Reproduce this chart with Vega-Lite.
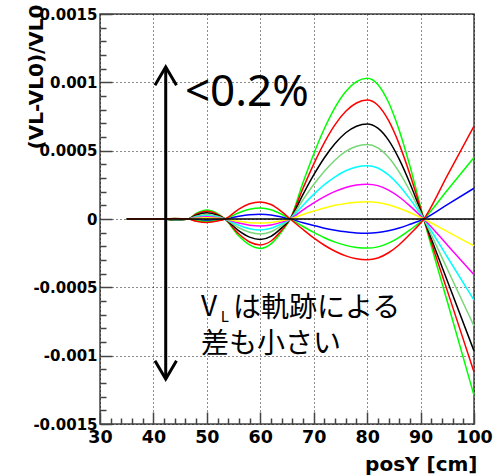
{
  "$schema": "https://vega.github.io/schema/vega-lite/v6.json",
  "width": 374,
  "height": 410,
  "autosize": {"type": "none"},
  "padding": {"left": 100, "top": 14, "right": 23, "bottom": 52},
  "background": "white",
  "config": {
    "view": {"stroke": "#444444", "strokeWidth": 1.5},
    "axis": {
      "labelFont": "DejaVu Sans",
      "labelFontWeight": "bold",
      "labelColor": "black",
      "titleFont": "DejaVu Sans",
      "titleFontWeight": "bold",
      "titleColor": "black",
      "tickColor": "#444444",
      "tickWidth": 1.5,
      "domain": false,
      "gridColor": "black",
      "gridDash": [1, 3],
      "gridWidth": 1,
      "gridOpacity": 0.9,
      "labelOverlap": false,
      "labelFlush": false
    }
  },
  "datasets": {
    "curves": [
      {"s":"g1","x":35,"v":0},{"s":"g1","x":40,"v":0},{"s":"g1","x":42,"v":0},{"s":"g1","x":44,"v":-0.00001},{"s":"g1","x":46.5,"v":0},{"s":"g1","x":48,"v":0.00004},{"s":"g1","x":50,"v":0.000065},{"s":"g1","x":52,"v":0.000039},{"s":"g1","x":53.4,"v":0},{"s":"g1","x":56,"v":-0.000125},{"s":"g1","x":58,"v":-0.00019},{"s":"g1","x":60,"v":-0.000215},{"s":"g1","x":62,"v":-0.000182},{"s":"g1","x":64,"v":-0.000093},{"s":"g1","x":65.6,"v":0},{"s":"g1","x":68,"v":0.000267},{"s":"g1","x":70,"v":0.000476},{"s":"g1","x":72,"v":0.000662},{"s":"g1","x":74,"v":0.000817},{"s":"g1","x":76,"v":0.000933},{"s":"g1","x":78,"v":0.001005},{"s":"g1","x":80,"v":0.00103},{"s":"g1","x":82,"v":0.000985},{"s":"g1","x":84,"v":0.000854},{"s":"g1","x":86,"v":0.000649},{"s":"g1","x":88,"v":0.000388},{"s":"g1","x":90.6,"v":0},{"s":"g1","x":95,"v":-0.000604},{"s":"g1","x":100,"v":-0.00129},
      {"s":"r1","x":35,"v":0},{"s":"r1","x":40,"v":0},{"s":"r1","x":42,"v":0},{"s":"r1","x":44,"v":-0.000008},{"s":"r1","x":46.5,"v":0},{"s":"r1","x":48,"v":0.000035},{"s":"r1","x":50,"v":0.000056},{"s":"r1","x":52,"v":0.000034},{"s":"r1","x":53.4,"v":0},{"s":"r1","x":56,"v":-0.00011},{"s":"r1","x":58,"v":-0.000168},{"s":"r1","x":60,"v":-0.00019},{"s":"r1","x":62,"v":-0.000161},{"s":"r1","x":64,"v":-0.000082},{"s":"r1","x":65.6,"v":0},{"s":"r1","x":68,"v":0.000225},{"s":"r1","x":70,"v":0.000402},{"s":"r1","x":72,"v":0.000559},{"s":"r1","x":74,"v":0.00069},{"s":"r1","x":76,"v":0.000788},{"s":"r1","x":78,"v":0.000849},{"s":"r1","x":80,"v":0.00087},{"s":"r1","x":82,"v":0.000832},{"s":"r1","x":84,"v":0.000721},{"s":"r1","x":86,"v":0.000548},{"s":"r1","x":88,"v":0.000328},{"s":"r1","x":90.6,"v":0},{"s":"r1","x":95,"v":-0.000524},{"s":"r1","x":100,"v":-0.00112},
      {"s":"k","x":35,"v":0},{"s":"k","x":40,"v":0},{"s":"k","x":42,"v":0},{"s":"k","x":44,"v":-0.000007},{"s":"k","x":46.5,"v":0},{"s":"k","x":48,"v":0.000028},{"s":"k","x":50,"v":0.000045},{"s":"k","x":52,"v":0.000027},{"s":"k","x":53.4,"v":0},{"s":"k","x":56,"v":-0.000087},{"s":"k","x":58,"v":-0.000133},{"s":"k","x":60,"v":-0.00015},{"s":"k","x":62,"v":-0.000127},{"s":"k","x":64,"v":-0.000065},{"s":"k","x":65.6,"v":0},{"s":"k","x":68,"v":0.00018},{"s":"k","x":70,"v":0.000322},{"s":"k","x":72,"v":0.000448},{"s":"k","x":74,"v":0.000552},{"s":"k","x":76,"v":0.000631},{"s":"k","x":78,"v":0.000679},{"s":"k","x":80,"v":0.000696},{"s":"k","x":82,"v":0.000665},{"s":"k","x":84,"v":0.000577},{"s":"k","x":86,"v":0.000438},{"s":"k","x":88,"v":0.000262},{"s":"k","x":90.6,"v":0},{"s":"k","x":95,"v":-0.000452},{"s":"k","x":100,"v":-0.000965},
      {"s":"lg","x":35,"v":0},{"s":"lg","x":40,"v":0},{"s":"lg","x":42,"v":0},{"s":"lg","x":44,"v":-0.000005},{"s":"lg","x":46.5,"v":0},{"s":"lg","x":48,"v":0.00002},{"s":"lg","x":50,"v":0.000033},{"s":"lg","x":52,"v":0.00002},{"s":"lg","x":53.4,"v":0},{"s":"lg","x":56,"v":-0.000064},{"s":"lg","x":58,"v":-0.000097},{"s":"lg","x":60,"v":-0.00011},{"s":"lg","x":62,"v":-0.000093},{"s":"lg","x":64,"v":-0.000048},{"s":"lg","x":65.6,"v":0},{"s":"lg","x":68,"v":0.000141},{"s":"lg","x":70,"v":0.000252},{"s":"lg","x":72,"v":0.00035},{"s":"lg","x":74,"v":0.000432},{"s":"lg","x":76,"v":0.000494},{"s":"lg","x":78,"v":0.000532},{"s":"lg","x":80,"v":0.000545},{"s":"lg","x":82,"v":0.000521},{"s":"lg","x":84,"v":0.000452},{"s":"lg","x":86,"v":0.000343},{"s":"lg","x":88,"v":0.000205},{"s":"lg","x":90.6,"v":0},{"s":"lg","x":95,"v":-0.000366},{"s":"lg","x":100,"v":-0.000783},
      {"s":"c","x":35,"v":0},{"s":"c","x":40,"v":0},{"s":"c","x":42,"v":0},{"s":"c","x":44,"v":-0.000004},{"s":"c","x":46.5,"v":0},{"s":"c","x":48,"v":0.000015},{"s":"c","x":50,"v":0.000024},{"s":"c","x":52,"v":0.000014},{"s":"c","x":53.4,"v":0},{"s":"c","x":56,"v":-0.000046},{"s":"c","x":58,"v":-0.000071},{"s":"c","x":60,"v":-0.00008},{"s":"c","x":62,"v":-0.000068},{"s":"c","x":64,"v":-0.000035},{"s":"c","x":65.6,"v":0},{"s":"c","x":68,"v":0.000101},{"s":"c","x":70,"v":0.00018},{"s":"c","x":72,"v":0.000251},{"s":"c","x":74,"v":0.000309},{"s":"c","x":76,"v":0.000353},{"s":"c","x":78,"v":0.000381},{"s":"c","x":80,"v":0.00039},{"s":"c","x":82,"v":0.000373},{"s":"c","x":84,"v":0.000323},{"s":"c","x":86,"v":0.000246},{"s":"c","x":88,"v":0.000147},{"s":"c","x":90.6,"v":0},{"s":"c","x":95,"v":-0.000278},{"s":"c","x":100,"v":-0.000594},
      {"s":"m","x":35,"v":0},{"s":"m","x":40,"v":0},{"s":"m","x":42,"v":0},{"s":"m","x":44,"v":-0.000002},{"s":"m","x":46.5,"v":0},{"s":"m","x":48,"v":0.00001},{"s":"m","x":50,"v":0.000016},{"s":"m","x":52,"v":0.00001},{"s":"m","x":53.4,"v":0},{"s":"m","x":56,"v":-0.00003},{"s":"m","x":58,"v":-0.000046},{"s":"m","x":60,"v":-0.000052},{"s":"m","x":62,"v":-0.000044},{"s":"m","x":64,"v":-0.000023},{"s":"m","x":65.6,"v":0},{"s":"m","x":68,"v":0.000066},{"s":"m","x":70,"v":0.000118},{"s":"m","x":72,"v":0.000164},{"s":"m","x":74,"v":0.000202},{"s":"m","x":76,"v":0.000231},{"s":"m","x":78,"v":0.000249},{"s":"m","x":80,"v":0.000255},{"s":"m","x":82,"v":0.000244},{"s":"m","x":84,"v":0.000211},{"s":"m","x":86,"v":0.000161},{"s":"m","x":88,"v":0.000096},{"s":"m","x":90.6,"v":0},{"s":"m","x":95,"v":-0.00019},{"s":"m","x":100,"v":-0.000407},
      {"s":"y","x":35,"v":0},{"s":"y","x":40,"v":0},{"s":"y","x":42,"v":0},{"s":"y","x":44,"v":-0.000001},{"s":"y","x":46.5,"v":0},{"s":"y","x":48,"v":0.000006},{"s":"y","x":50,"v":0.000009},{"s":"y","x":52,"v":0.000005},{"s":"y","x":53.4,"v":0},{"s":"y","x":56,"v":-0.000017},{"s":"y","x":58,"v":-0.000027},{"s":"y","x":60,"v":-0.00003},{"s":"y","x":62,"v":-0.000025},{"s":"y","x":64,"v":-0.000013},{"s":"y","x":65.6,"v":0},{"s":"y","x":68,"v":0.000033},{"s":"y","x":70,"v":0.000058},{"s":"y","x":72,"v":0.000081},{"s":"y","x":74,"v":0.0001},{"s":"y","x":76,"v":0.000114},{"s":"y","x":78,"v":0.000123},{"s":"y","x":80,"v":0.000126},{"s":"y","x":82,"v":0.00012},{"s":"y","x":84,"v":0.000104},{"s":"y","x":86,"v":0.000079},{"s":"y","x":88,"v":0.000048},{"s":"y","x":90.6,"v":0},{"s":"y","x":95,"v":-0.000092},{"s":"y","x":100,"v":-0.000197},
      {"s":"b","x":35,"v":0},{"s":"b","x":40,"v":0},{"s":"b","x":42,"v":0},{"s":"b","x":44,"v":0.000002},{"s":"b","x":46.5,"v":0},{"s":"b","x":48,"v":-0.000006},{"s":"b","x":50,"v":-0.00001},{"s":"b","x":52,"v":-0.000006},{"s":"b","x":53.4,"v":0},{"s":"b","x":56,"v":0.00002},{"s":"b","x":58,"v":0.000031},{"s":"b","x":60,"v":0.000035},{"s":"b","x":62,"v":0.00003},{"s":"b","x":64,"v":0.000015},{"s":"b","x":65.6,"v":0},{"s":"b","x":68,"v":-0.000027},{"s":"b","x":70,"v":-0.000048},{"s":"b","x":72,"v":-0.000067},{"s":"b","x":74,"v":-0.000082},{"s":"b","x":76,"v":-0.000094},{"s":"b","x":78,"v":-0.000102},{"s":"b","x":80,"v":-0.000104},{"s":"b","x":82,"v":-0.000099},{"s":"b","x":84,"v":-0.000086},{"s":"b","x":86,"v":-0.000066},{"s":"b","x":88,"v":-0.000039},{"s":"b","x":90.6,"v":0},{"s":"b","x":95,"v":0.000105},{"s":"b","x":100,"v":0.000225},
      {"s":"g2","x":35,"v":0},{"s":"g2","x":40,"v":0},{"s":"g2","x":42,"v":0},{"s":"g2","x":44,"v":0.000003},{"s":"g2","x":46.5,"v":0},{"s":"g2","x":48,"v":-0.000011},{"s":"g2","x":50,"v":-0.000018},{"s":"g2","x":52,"v":-0.000011},{"s":"g2","x":53.4,"v":0},{"s":"g2","x":56,"v":0.000046},{"s":"g2","x":58,"v":0.000071},{"s":"g2","x":60,"v":0.00008},{"s":"g2","x":62,"v":0.000068},{"s":"g2","x":64,"v":0.000035},{"s":"g2","x":65.6,"v":0},{"s":"g2","x":68,"v":-0.000055},{"s":"g2","x":70,"v":-0.000098},{"s":"g2","x":72,"v":-0.000137},{"s":"g2","x":74,"v":-0.000169},{"s":"g2","x":76,"v":-0.000193},{"s":"g2","x":78,"v":-0.000208},{"s":"g2","x":80,"v":-0.000213},{"s":"g2","x":82,"v":-0.000204},{"s":"g2","x":84,"v":-0.000177},{"s":"g2","x":86,"v":-0.000134},{"s":"g2","x":88,"v":-0.00008},{"s":"g2","x":90.6,"v":0},{"s":"g2","x":95,"v":0.000211},{"s":"g2","x":100,"v":0.00045},
      {"s":"r2","x":35,"v":0},{"s":"r2","x":40,"v":0},{"s":"r2","x":42,"v":0},{"s":"r2","x":44,"v":0.000004},{"s":"r2","x":46.5,"v":0},{"s":"r2","x":48,"v":-0.000016},{"s":"r2","x":50,"v":-0.000025},{"s":"r2","x":52,"v":-0.000015},{"s":"r2","x":53.4,"v":0},{"s":"r2","x":56,"v":0.000073},{"s":"r2","x":58,"v":0.000111},{"s":"r2","x":60,"v":0.000125},{"s":"r2","x":62,"v":0.000106},{"s":"r2","x":64,"v":0.000054},{"s":"r2","x":65.6,"v":0},{"s":"r2","x":68,"v":-0.000077},{"s":"r2","x":70,"v":-0.000138},{"s":"r2","x":72,"v":-0.000192},{"s":"r2","x":74,"v":-0.000236},{"s":"r2","x":76,"v":-0.00027},{"s":"r2","x":78,"v":-0.000291},{"s":"r2","x":80,"v":-0.000298},{"s":"r2","x":82,"v":-0.000285},{"s":"r2","x":84,"v":-0.000247},{"s":"r2","x":86,"v":-0.000188},{"s":"r2","x":88,"v":-0.000112},{"s":"r2","x":90.6,"v":0},{"s":"r2","x":95,"v":0.000318},{"s":"r2","x":100,"v":0.00068}
    ],
    "zero": [{"x": 35, "x2": 100, "y": 0}],
    "arrow": [{"x": 42.3, "y": 0.001113, "y2": -0.001171}],
    "heads": [{"x": 42.3, "y": 0.001113, "d": "up"}, {"x": 42.3, "y": -0.001171, "d": "down"}],
    "big": [{"t": "<0.2%", "x": 45.9, "y": 0.000829}],
    "jp": [{"t": "V", "x": 48.9, "y": -0.000713}, {"t": "は軌跡による", "x": 54.9, "y": -0.00072}, {"t": "差も小さい", "x": 48.9, "y": -0.000982}],
    "sub": [{"t": "L", "x": 52.6, "y": -0.000756}]
  },
  "layer": [
    {
      "data": {"name": "curves"},
      "mark": {"type": "line", "interpolate": "monotone", "strokeWidth": 1.5},
      "encoding": {
        "x": {
          "field": "x", "type": "quantitative",
          "scale": {"domain": [30, 100], "nice": false, "zero": false},
          "axis": {
            "orient": "bottom",
            "values": [30, 40, 50, 60, 70, 80, 90, 100],
            "tickSize": -12,
            "labelPadding": 16,
            "labelFontSize": 17.5,
            "grid": true,
            "title": "posY [cm]",
            "titleFontSize": 20,
            "titleAlign": "right",
            "titleBaseline": "alphabetic",
            "titleX": 377,
            "titleY": 46
          }
        },
        "y": {
          "field": "v", "type": "quantitative",
          "scale": {"domain": [-0.0015, 0.0015], "nice": false, "zero": false},
          "axis": {
            "orient": "left",
            "values": [-0.0015, -0.001, -0.0005, 0, 0.0005, 0.001, 0.0015],
            "labelExpr": "'' + datum.value",
            "tickSize": -12,
            "labelPadding": 15,
            "labelFontSize": 15,
            "grid": true,
            "title": "(VL-VL0)/VL0",
            "titleFontSize": 20,
            "titleAngle": 270,
            "titleAlign": "right",
            "titleBaseline": "alphabetic",
            "titleX": -58,
            "titleY": -10
          }
        },
        "color": {
          "field": "s", "type": "nominal",
          "scale": {
            "domain": ["y", "m", "c", "lg", "k", "b", "g2", "r2", "r1", "g1"],
            "range": ["#ffff00", "#ff00ff", "#00ffff", "#77d777", "#000000", "#0000ff", "#00ff00", "#ff0000", "#ff0000", "#00ff00"]
          },
          "legend": null
        }
      }
    },
    {
      "data": {"name": "zero"},
      "mark": {"type": "rule", "color": "black", "strokeWidth": 1.5},
      "encoding": {
        "x": {
          "field": "x", "type": "quantitative",
          "axis": {
            "orient": "bottom",
            "values": [32, 34, 36, 38, 42, 44, 46, 48, 52, 54, 56, 58, 62, 64, 66, 68, 72, 74, 76, 78, 82, 84, 86, 88, 92, 94, 96, 98],
            "tickSize": -6, "labels": false, "grid": false, "title": null
          }
        },
        "x2": {"field": "x2"},
        "y": {
          "field": "y", "type": "quantitative",
          "axis": {
            "orient": "left",
            "values": [-0.0014, -0.0013, -0.0012, -0.0011, -0.0009, -0.0008, -0.0007, -0.0006, -0.0004, -0.0003, -0.0002, -0.0001, 0.0001, 0.0002, 0.0003, 0.0004, 0.0006, 0.0007, 0.0008, 0.0009, 0.0011, 0.0012, 0.0013, 0.0014],
            "tickSize": -6, "labels": false, "grid": false, "title": null
          }
        }
      }
    },
    {
      "data": {"name": "arrow"},
      "mark": {"type": "rule", "color": "black", "strokeWidth": 3},
      "encoding": {
        "x": {"field": "x", "type": "quantitative", "axis": null},
        "y": {"field": "y", "type": "quantitative", "axis": null},
        "y2": {"field": "y2"}
      }
    },
    {
      "data": {"name": "heads"},
      "mark": {"type": "point", "filled": false, "color": "black", "strokeWidth": 3, "size": 400, "opacity": 1, "strokeCap": "square"},
      "encoding": {
        "x": {"field": "x", "type": "quantitative", "axis": null},
        "y": {"field": "y", "type": "quantitative", "axis": null},
        "shape": {
          "field": "d", "type": "nominal",
          "scale": {"domain": ["up", "down"], "range": ["M-1,1.7L0,0L1,1.7", "M-1,-1.7L0,0L1,-1.7"]},
          "legend": null
        }
      }
    },
    {
      "data": {"name": "big"},
      "mark": {"type": "text", "font": "Noto Sans", "fontSize": 44, "align": "left", "baseline": "alphabetic", "color": "black"},
      "encoding": {
        "x": {"field": "x", "type": "quantitative", "axis": null},
        "y": {"field": "y", "type": "quantitative", "axis": null},
        "text": {"field": "t"}
      }
    },
    {
      "data": {"name": "jp"},
      "mark": {"type": "text", "font": "Noto Sans CJK JP", "fontSize": 28, "align": "left", "baseline": "alphabetic", "color": "black"},
      "encoding": {
        "x": {"field": "x", "type": "quantitative", "axis": null},
        "y": {"field": "y", "type": "quantitative", "axis": null},
        "text": {"field": "t"}
      }
    },
    {
      "data": {"name": "sub"},
      "mark": {"type": "text", "font": "Noto Sans CJK JP", "fontSize": 15, "align": "left", "baseline": "alphabetic", "color": "black"},
      "encoding": {
        "x": {"field": "x", "type": "quantitative", "axis": null},
        "y": {"field": "y", "type": "quantitative", "axis": null},
        "text": {"field": "t"}
      }
    }
  ],
  "resolve": {"axis": {"x": "independent", "y": "independent"}}
}
